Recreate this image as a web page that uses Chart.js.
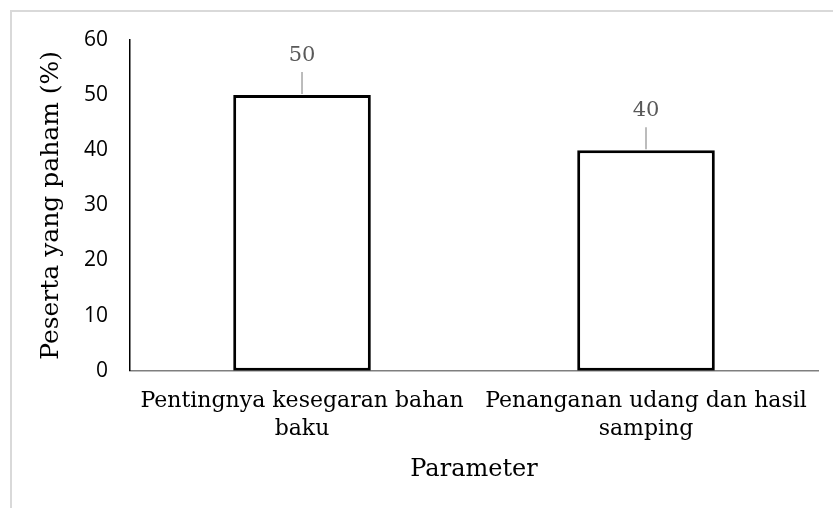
<!DOCTYPE html>
<html>
<head>
<meta charset="utf-8">
<script src="https://cdn.jsdelivr.net/npm/chart.js@4.4.1/dist/chart.umd.min.js"></script>
<style>
  body { margin: 0; background: #fff; }
  #wrap { position: relative; width: 833px; height: 508px; }
  #frame { position: absolute; left: 10px; top: 10px; right: -10px; bottom: -10px;
           border-top: 2px solid #d9d9d9; border-left: 2px solid #d9d9d9; pointer-events: none; }
  canvas { position: absolute; left: 0; top: 0; }
</style>
</head>
<body>
<div id="wrap">
  <canvas id="chart" width="833" height="508"></canvas>
  <div id="frame"></div>
</div>
<script>
// data
var categories = [
    ['Pentingnya kesegaran bahan', 'baku'],
    ['Penanganan udang dan hasil', 'samping']
];
var pesertaPaham = [50, 40];
var yTicks = [0, 10, 20, 30, 40, 50, 60];

var serif = "'DejaVu Serif', serif";
var sans = "'Open Sans', sans-serif";

// value label with a short leader line above each bar
var barLabels = {
    id: 'barLabels',
    afterDatasetsDraw: function (chart) {
        var ctx = chart.ctx;
        var meta = chart.getDatasetMeta(0);
        ctx.save();
        meta.data.forEach(function (bar, i) {
            ctx.strokeStyle = '#a6a6a6';
            ctx.lineWidth = 1.5;
            ctx.beginPath();
            ctx.moveTo(bar.x, bar.y - 1);
            ctx.lineTo(bar.x, bar.y - 23);
            ctx.stroke();
            ctx.fillStyle = '#595959';
            ctx.font = '21px ' + serif;
            ctx.textAlign = 'center';
            ctx.textBaseline = 'middle';
            ctx.fillText(pesertaPaham[i], bar.x, bar.y - 40);
        });
        ctx.restore();
    }
};

var chart = new Chart(document.getElementById('chart').getContext('2d'), {
    type: 'bar',
    data: {
        labels: categories,
        datasets: [{
            data: pesertaPaham,
            backgroundColor: '#ffffff',
            borderColor: '#000000',
            borderWidth: 3,
            borderSkipped: false,
            categoryPercentage: 1,
            barPercentage: 0.4
        }]
    },
    options: {
        responsive: false,
        animation: false,
        layout: { padding: { left: 0, right: 15, top: 40, bottom: 24 } },
        plugins: {
            legend: { display: false },
            tooltip: { enabled: false }
        },
        scales: {
            x: {
                grid: { display: false, drawTicks: false },
                border: { display: true, color: '#7f7f7f', width: 1.5 },
                ticks: {
                    color: '#000',
                    font: { family: serif, size: 22, lineHeight: 1.25 },
                    padding: 17,
                    maxRotation: 0,
                    autoSkip: false
                },
                title: {
                    display: true,
                    text: 'Parameter',
                    color: '#000',
                    font: { family: serif, size: 24, lineHeight: 1.2 },
                    padding: { top: -4.5, bottom: 0 }
                }
            },
            y: {
                min: 0,
                max: 60,
                afterBuildTicks: function (axis) {
                    axis.ticks = yTicks.map(function (v) { return { value: v }; });
                },
                grid: { display: false, drawTicks: false },
                border: { display: true, color: '#000', width: 1.5 },
                ticks: {
                    color: '#000',
                    font: { family: sans, size: 21 },
                    padding: 22
                },
                title: {
                    display: true,
                    text: 'Peserta yang paham (%)',
                    color: '#000',
                    font: { family: serif, size: 25, lineHeight: 1.2 },
                    padding: { top: 36, bottom: -4 }
                }
            }
        }
    },
    plugins: [barLabels]
});
</script>
</body>
</html>
